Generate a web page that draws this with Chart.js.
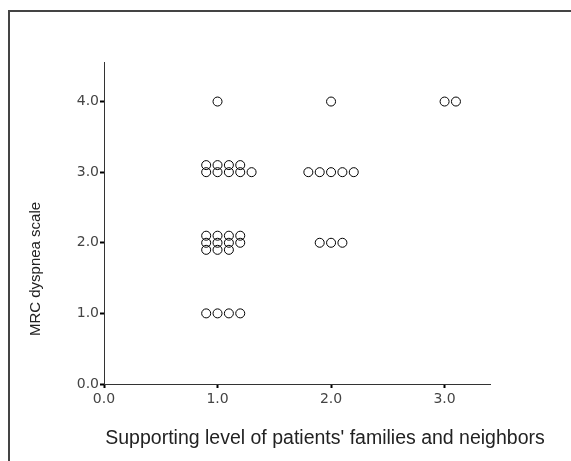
<!doctype html>
<html lang="en">
  <head>
    <meta charset="utf-8">
    <title>MRC dyspnea scale</title>
    <script src="https://cdn.jsdelivr.net/npm/chart.js@4.4.0/dist/chart.umd.min.js"></script>
    <style>
      html, body { margin: 0; padding: 0; background: #fff; }
      #wrap { width: 571px; height: 461px; }
    </style>
  </head>
  <body>
    <div id="wrap"><canvas id="myChart" width="571" height="461"></canvas></div>

<script>
// plotted positions (SPSS spreads tied cases side by side)
const supportX = [
  1.0, 2.0, 3.0, 3.1,
  0.9, 1.0, 1.1, 1.2,
  0.9, 1.0, 1.1, 1.2, 1.3,
  1.8, 1.9, 2.0, 2.1, 2.2,
  0.9, 1.0, 1.1, 1.2,
  0.9, 1.0, 1.1, 1.2,
  0.9, 1.0, 1.1,
  1.9, 2.0, 2.1,
  0.9, 1.0, 1.1, 1.2
]
const dyspneaY = [
  4.0, 4.0, 4.0, 4.0,
  3.1, 3.1, 3.1, 3.1,
  3.0, 3.0, 3.0, 3.0, 3.0,
  3.0, 3.0, 3.0, 3.0, 3.0,
  2.1, 2.1, 2.1, 2.1,
  2.0, 2.0, 2.0, 2.0,
  1.9, 1.9, 1.9,
  2.0, 2.0, 2.0,
  1.0, 1.0, 1.0, 1.0
]
const xTicks = [0, 1, 2, 3]
const yTicks = [0, 1, 2, 3, 4]

const xTitle = "Supporting level of patients' families and neighbors"
const yTitle = 'MRC dyspnea scale'

const points = supportX.map((x, i) => ({ x: x, y: dyspneaY[i] }))

const tickFont = { family: 'DejaVu Sans', size: 14 }

// frame + axis titles
const decorations = {
  id: 'decorations',
  afterDraw(chart) {
    const ctx = chart.ctx
    ctx.save()
    ctx.strokeStyle = '#444'
    ctx.lineWidth = 2
    ctx.beginPath()
    ctx.moveTo(9, 461)
    ctx.lineTo(9, 11)
    ctx.lineTo(571, 11)
    ctx.stroke()

    ctx.fillStyle = '#222'
    ctx.textAlign = 'center'
    ctx.textBaseline = 'middle'
    ctx.font = '19.5px "Liberation Sans"'
    ctx.fillText(xTitle, 325, 439)

    ctx.font = '15px "Liberation Sans"'
    ctx.translate(36, 269)
    ctx.rotate(-Math.PI / 2)
    ctx.fillText(yTitle, 0, 0)
    ctx.restore()
  }
}

const config = {
  type: 'scatter',
  data: {
    datasets: [{
      label: 'cases',
      data: points,
      pointStyle: 'circle',
      pointRadius: 4.5,
      pointHoverRadius: 4.5,
      borderWidth: 1,
      borderColor: '#000',
      backgroundColor: 'rgba(255,255,255,0)'
    }]
  },
  options: {
    responsive: false,
    animation: false,
    layout: {
      padding: { left: 0, right: 81, top: 62, bottom: 0 }
    },
    scales: {
      x: {
        type: 'linear',
        min: 0,
        max: 3.4,
        afterBuildTicks: scale => { scale.ticks = xTicks.map(v => ({ value: v })) },
        afterFit: scale => { scale.height = 77 },
        border: { color: '#333', width: 1 },
        grid: { drawOnChartArea: false, drawTicks: true, tickLength: 4, color: '#000', tickWidth: 2 },
        ticks: {
          font: tickFont,
          color: '#444',
          padding: 3,
          maxRotation: 0,
          callback: v => Number(v).toFixed(1)
        }
      },
      y: {
        type: 'linear',
        min: 0,
        max: 4.56,
        afterBuildTicks: scale => { scale.ticks = yTicks.map(v => ({ value: v })) },
        afterFit: scale => { scale.width = 104 },
        border: { color: '#333', width: 1 },
        grid: { drawOnChartArea: false, drawTicks: true, tickLength: 4, color: '#000', tickWidth: 2 },
        ticks: {
          font: tickFont,
          color: '#444',
          padding: 1,
          callback: v => Number(v).toFixed(1)
        }
      }
    },
    plugins: {
      legend: { display: false },
      tooltip: { enabled: false },
      title: { display: false }
    }
  },
  plugins: [decorations]
}

const myChart = new Chart(document.getElementById('myChart'), config)
</script>
  </body>
</html>
